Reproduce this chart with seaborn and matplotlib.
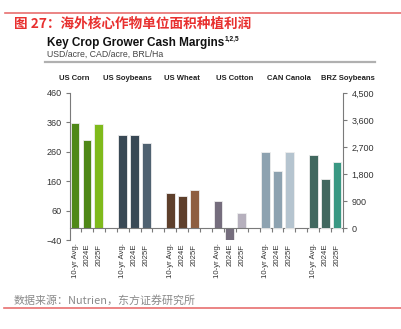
import matplotlib
matplotlib.use("Agg")
import matplotlib.pyplot as plt
from matplotlib.lines import Line2D
from matplotlib.ticker import FixedLocator, FuncFormatter
import seaborn as sns
import pandas as pd
import numpy as np

# ---------------- data ----------------
crops = ["US Corn", "US Soybeans", "US Wheat", "US Cotton", "CAN Canola", "BRZ Soybeans"]
periods = ["10-yr Avg.", "2024E", "2025F"]
us_corn = [359, 299, 356]
us_soybeans = [317, 317, 289]
us_wheat = [121, 109, 129]
us_cotton = [93, -40, 51]
can_canola = [2550, 1920, 2550]      # right axis
brz_soybeans = [2450, 1640, 2190]    # right axis
left_ticks = [-40, 60, 160, 260, 360, 460]
right_ticks = [0, 900, 1800, 2700, 3600, 4500]

values = [us_corn, us_soybeans, us_wheat, us_cotton, can_canola, brz_soybeans]
right_axis = [False, False, False, False, True, True]
colors = [
    ["#4f9a06", "#4f9a06", "#86d500"],
    ["#34495a", "#34495a", "#4a6277"],
    ["#673d22", "#673d22", "#9b5b33"],
    ["#756a80", "#756a80", "#b6aebf"],
    ["#87a3b6", "#87a3b6", "#b1c5d3"],
    ["#3a6f63", "#3a6f63", "#2aa88b"],
]

rows = []
for g, (crop, vals) in enumerate(zip(crops, values)):
    for i, (per, v) in enumerate(zip(periods, vals)):
        rows.append(dict(crop=crop, period=per, value=v, pos=g * 4 + i,
                         key=f"{crop}|{per}", right=right_axis[g],
                         color=colors[g][i]))
df = pd.DataFrame(rows)
pal = dict(zip(df["key"], df["color"]))

# ---------------- figure ----------------
W, H = 402, 329
fig = plt.figure(figsize=(W / 100, H / 100), dpi=100)
plt.rcParams["font.family"] = ["Liberation Sans", "DejaVu Sans"]

def px(x, y):
    return x / W, 1 - y / H

ax = fig.add_axes([70 / W, 1 - 240 / H, (343 - 70) / W, (240 - 93) / H])
ax2 = ax.twinx()

dl = df[~df["right"]]
dr = df[df["right"]]
sns.barplot(data=dl, x="pos", y="value", hue="key", palette=pal, dodge=False,
            native_scale=True, width=0.74, errorbar=None, legend=False, ax=ax,
            edgecolor="#eeeeee", linewidth=0.6)
sns.barplot(data=dr, x="pos", y="value", hue="key", palette=pal, dodge=False,
            native_scale=True, width=0.74, errorbar=None, legend=False, ax=ax2,
            edgecolor="#eeeeee", linewidth=0.6)

ax.set_xlim(-0.42, 22.5)
ax.set_ylim(-40, 460)
ax2.set_ylim(-40 * 4500 / 460, 4500)

for a in (ax, ax2):
    a.set_xlabel("")
    a.set_ylabel("")
    a.set_facecolor("none")
    for s in a.spines.values():
        s.set_visible(False)

axis_col = "#7a7a7a"
lab_col = "#333333"

# left axis
ax.spines["left"].set_visible(True)
ax.spines["left"].set_color(axis_col)
ax.spines["left"].set_linewidth(0.8)
ax.set_yticks(left_ticks)
ax.tick_params(axis="y", direction="out", length=3, width=0.8, color=axis_col,
               labelsize=6.5, labelcolor=lab_col, pad=3)

# baseline at zero
ax.spines["bottom"].set_visible(True)
ax.spines["bottom"].set_position(("data", 0))
ax.spines["bottom"].set_color(axis_col)
ax.spines["bottom"].set_linewidth(0.8)
ax.xaxis.set_major_locator(FixedLocator(df["pos"].tolist()))
ax.set_xticklabels(df["period"].tolist(), rotation=90)
ax.xaxis.set_minor_locator(FixedLocator(np.arange(-0.5, 22.6, 1.0)))
ax.tick_params(axis="x", which="major", length=0, pad=11, labelsize=5.6,
               labelcolor=lab_col)
ax.tick_params(axis="x", which="minor", direction="out", length=3, width=0.8,
               color=axis_col)

# right axis
ax2.spines["right"].set_visible(True)
ax2.spines["right"].set_color(axis_col)
ax2.spines["right"].set_linewidth(0.8)
ax2.spines["right"].set_bounds(0, 4500)
ax2.set_yticks(right_ticks)
ax2.yaxis.set_major_formatter(FuncFormatter(lambda v, p: f"{int(v):,}"))
ax2.tick_params(axis="y", direction="out", length=3, width=0.8, color=axis_col,
                labelsize=6.5, labelcolor=lab_col, pad=3)
ax2.tick_params(axis="x", bottom=False, labelbottom=False)

# ---------------- texts / decorations ----------------
red = "#e8302f"
fig.add_artist(Line2D([5 / W, 1], [1 - 13 / H] * 2, color="#e87070", lw=1.2))
fig.add_artist(Line2D([4 / W, 1], [1 - 308 / H] * 2, color="#e87070", lw=1.2))

fig.text(*px(14, 24), "图 27：海外核心作物单位面积种植利润", color=red,
         fontsize=9.8, va="center", ha="left",
         family=["Noto Sans CJK SC", "DejaVu Sans"], weight="bold")

fig.text(*px(47, 43), "Key Crop Grower Cash Margins", fontsize=8.5,
         weight="bold", va="center", ha="left", color="#111111")
fig.text(*px(225, 39), "1,2,5", fontsize=4.8, weight="bold", va="center",
         ha="left", color="#111111")
fig.text(*px(47, 54), "USD/acre, CAD/acre, BRL/Ha", fontsize=6.3,
         va="center", ha="left", color="#444444")
fig.add_artist(Line2D([45 / W, 375 / W], [1 - 62 / H] * 2, color="#b0b0b0", lw=1.6))

header_x = [74, 127, 182, 235, 289, 348]
for cx, name in zip(header_x, crops):
    fig.text(*px(cx, 78), name, fontsize=5.5, weight="bold", ha="center",
             va="center", color="#222222")

fig.text(*px(14, 300), "数据来源：Nutrien，东方证券研究所", fontsize=7.9,
         color="#8a8a8a", va="center", ha="left",
         family=["Noto Sans CJK SC", "DejaVu Sans"])

fig.savefig("out.png", dpi=100)
